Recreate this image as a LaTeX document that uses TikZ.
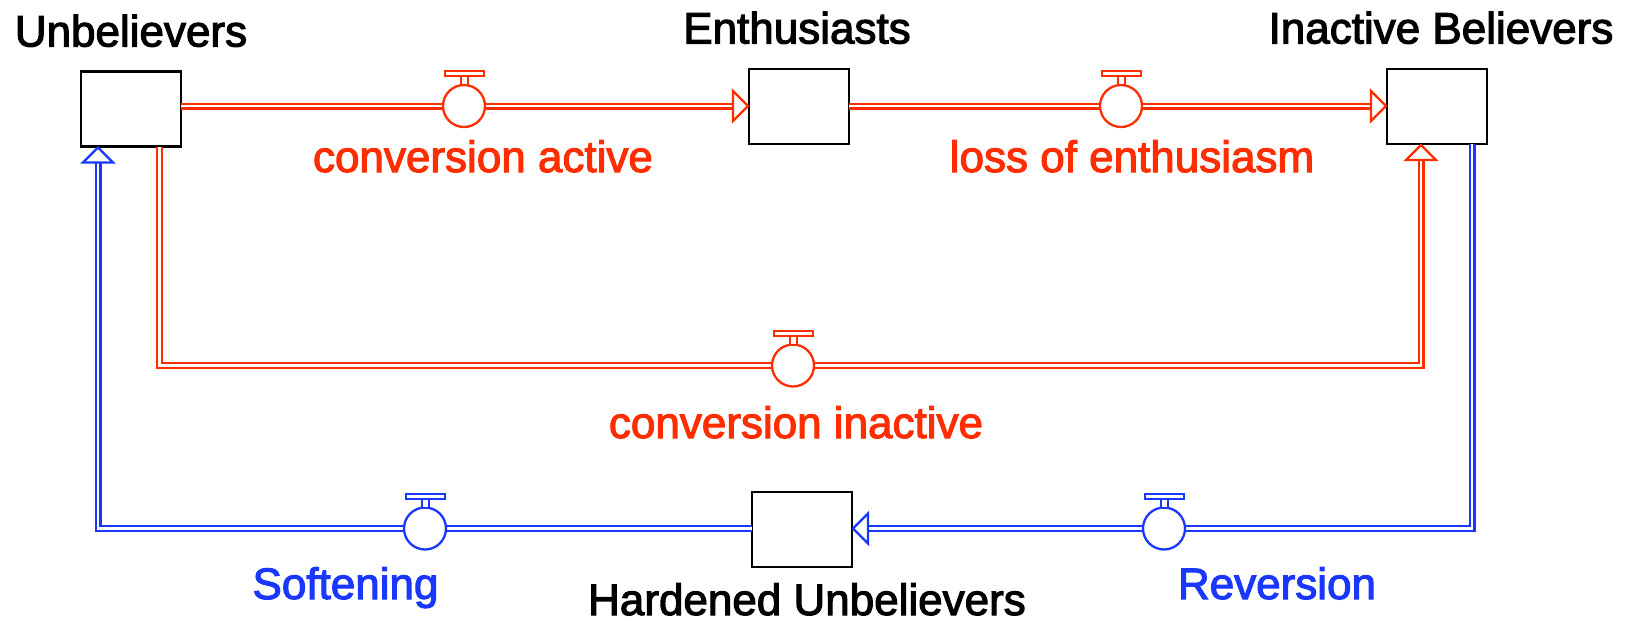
\documentclass[tikz,border=0pt]{standalone}
\usepackage{fontspec}
\setmainfont{Liberation Sans}
\newfontfamily\diaglbl[FakeBold=2.5]{Liberation Sans}
\usetikzlibrary{calc}
\definecolor{fred}{RGB}{255,45,0}
\definecolor{fblue}{RGB}{25,55,255}
\tikzset{
  stock/.style={draw=black, line width=2.2pt, fill=white, minimum width=100pt, minimum height=75pt, inner sep=0pt, outer sep=0pt},
  lbl/.style={font=\diaglbl\fontsize{44}{50}\selectfont, inner sep=0pt, anchor=base},
  pipe/.style={line width=2.3pt, double=white, double distance=2.4pt, line join=miter},
  tipst/.style={line width=2.3pt, fill=white, line join=miter},
  valvest/.style={circle, draw, line width=2.3pt, fill=white, minimum size=42pt, inner sep=0pt, outer sep=0pt},
  handle/.style={line width=2pt, fill=white}
}
\newcommand\flowvalve[4]{%
  \node[valvest, draw=#4] (#1) at (#2,#3) {};
  \draw[handle, draw=#4] ($(#1.north)+(-3.5,0)$) rectangle ($(#1.north)+(3.5,-9)$);
  \draw[handle, draw=#4] ($(#1.north)+(-19.5,-9)$) rectangle ($(#1.north)+(19.5,-14)$);
}
\begin{document}
\begin{tikzpicture}[x=1pt,y=-1pt]
\useasboundingbox (0,0) rectangle (1633,621);
% stocks
\node[stock] (U) at (131,109) {};
\node[stock] (E) at (799,106.5) {};
\node[stock] (I) at (1437,106.5) {};
\node[stock] (H) at (802,529.5) {};
% corner coordinates
\coordinate (v1) at (464,106);
\coordinate (v2) at (1121,106);
\coordinate (v3) at (793,365.5);
\coordinate (v4) at (1164,528.5);
\coordinate (v5) at (425,528.5);
\coordinate (ci1) at (159.5,365.5);
\coordinate (ci2) at (1421,365.5);
\coordinate (cr) at (1472,528.5);
\coordinate (cs) at (98,528.5);
% pipes
\draw[pipe, draw=fred] (v1 -| U.east) -- ($(v1 -| E.west)+(-14,0)$);
\draw[pipe, draw=fred] (v2 -| E.east) -- ($(v2 -| I.west)+(-14,0)$);
\draw[pipe, draw=fred] (U.south -| ci1) -- (ci1) -- (ci2) -- ($(I.south -| ci2)+(0,14)$);
\draw[pipe, draw=fblue] (I.south -| cr) -- (cr) -- ($(v4 -| H.east)+(14,0)$);
\draw[pipe, draw=fblue] (v5 -| H.west) -- (cs) -- ($(U.south -| cs)+(0,14)$);
% arrow tips
\draw[tipst, draw=fred] ($(v1 -| E.west)+(-1,0)$) -- ++(-15,-15) -- ++(0,30) -- cycle;
\draw[tipst, draw=fred] ($(v2 -| I.west)+(-1,0)$) -- ++(-15,-15) -- ++(0,30) -- cycle;
\draw[tipst, draw=fred] ($(I.south -| ci2)+(0,1)$) -- ++(-15,15) -- ++(30,0) -- cycle;
\draw[tipst, draw=fblue] ($(v4 -| H.east)+(1,0)$) -- ++(15,-15) -- ++(0,30) -- cycle;
\draw[tipst, draw=fblue] ($(U.south -| cs)+(0,1)$) -- ++(-15,15) -- ++(30,0) -- cycle;
% valves
\flowvalve{V1}{464}{106}{fred}
\flowvalve{V2}{1121}{106}{fred}
\flowvalve{V3}{793}{365.5}{fred}
\flowvalve{V4}{1164}{528.5}{fblue}
\flowvalve{V5}{425}{528.5}{fblue}
% labels
\node[lbl] (tU) at (131,46.5) {Unbelievers};
\node[lbl] (tE) at (797,43.5) {Enthusiasts};
\node[lbl] (tI) at (1441,43.5) {Inactive Believers};
\node[lbl] (tH) at (807,615) {Hardened Unbelievers};
\node[lbl, text=fred] (t1) at (483,172) {conversion active};
\node[lbl, text=fred] (t2) at (1132,172) {loss of enthusiasm};
\node[lbl, text=fred] (t3) at (796,438) {conversion inactive};
\node[lbl, text=fblue] (t4) at (1277,599) {Reversion};
\node[lbl, text=fblue] (t5) at (345.5,599) {Softening};
\end{tikzpicture}
\end{document}
